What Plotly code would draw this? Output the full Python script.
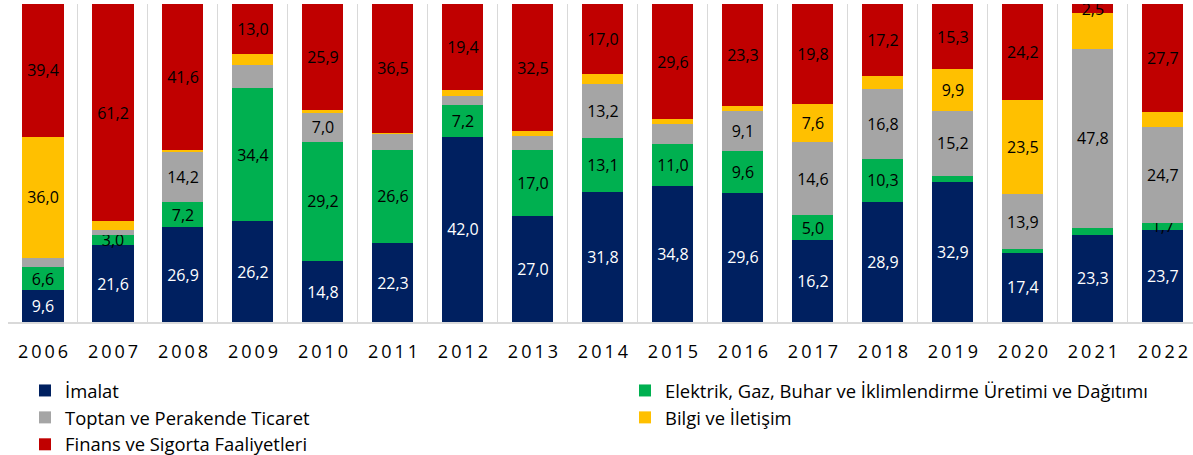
import plotly.graph_objects as go

years = ["2006", "2007", "2008", "2009", "2010", "2011", "2012", "2013", "2014",
         "2015", "2016", "2017", "2018", "2019", "2020", "2021", "2022"]

imalat = [9.6, 21.6, 26.9, 26.2, 14.8, 22.3, 42.0, 27.0, 31.8, 34.8, 29.6, 16.2, 28.9, 32.9, 17.4, 23.3, 23.7]
elektrik = [6.6, 3.0, 7.2, 34.4, 29.2, 26.6, 7.2, 17.0, 13.1, 11.0, 9.6, 5.0, 10.3, 1.5, 0.85, 1.8, 1.7]
toptan = [2.8, 1.4, 14.2, 6.0, 7.0, 4.5, 2.0, 3.6, 13.2, 5.0, 9.1, 14.6, 16.8, 15.2, 13.9, 47.8, 24.7]
bilgi = [36.0, 2.3, 0.6, 2.9, 0.66, 0.3, 1.4, 1.1, 2.45, 1.2, 1.2, 7.6, 3.2, 9.9, 23.5, 9.5, 3.8]
finans = [39.4, 61.2, 41.6, 13.0, 25.9, 36.5, 19.4, 32.5, 17.0, 29.6, 23.3, 19.8, 17.2, 15.3, 24.2, 2.5, 27.7]

# which segments carry a data label in the original (1 = labelled)
imalat_lab = [1] * 17
elektrik_lab = [1, 1, 1, 1, 1, 1, 1, 1, 1, 1, 1, 1, 1, 0, 0, 0, 1]
toptan_lab = [0, 0, 1, 0, 1, 0, 0, 0, 1, 0, 1, 1, 1, 1, 1, 1, 1]
bilgi_lab = [1, 0, 0, 0, 0, 0, 0, 0, 0, 0, 0, 1, 0, 1, 1, 0, 0]
finans_lab = [1] * 17

names = ["İmalat", "Elektrik, Gaz, Buhar ve İklimlendirme Üretimi ve Dağıtımı",
         "Toptan ve Perakende Ticaret", "Bilgi ve İletişim", "Finans ve Sigorta Faaliyetleri"]
colors = ["#002060", "#00B050", "#A5A5A5", "#FFC000", "#C00000"]
text_colors = ["#FFFFFF", "#000000", "#000000", "#000000", "#000000"]
legends = ["legend", "legend2", "legend", "legend2", "legend"]

FONT = "Open Sans"


def fmt(v, show):
    return (f"{v:.1f}".replace(".", ",")) if show else ""


series = [(imalat, imalat_lab), (elektrik, elektrik_lab), (toptan, toptan_lab),
          (bilgi, bilgi_lab), (finans, finans_lab)]

fig = go.Figure()
for i, (vals, labs) in enumerate(series):
    fig.add_trace(go.Bar(
        x=years, y=vals, name=names[i],
        marker=dict(color=colors[i], line=dict(width=0)),
        text=[fmt(v, s) for v, s in zip(vals, labs)],
        textposition="inside", insidetextanchor="middle", textangle=0,
        textfont=dict(family=FONT, size=16, color=text_colors[i]),
        legend=legends[i], legendgroup=f"g{i}", cliponaxis=True,
        hoverinfo="skip",
    ))

ticktext = ["\u2006".join(list(y)) for y in years]

fig.update_layout(
    width=1193, height=455,
    margin=dict(l=8, r=0, t=4, b=133, autoexpand=False),
    barmode="stack", barnorm="percent", bargap=0.414,
    plot_bgcolor="white", paper_bgcolor="white",
    font=dict(family=FONT, color="#000000"),
    uniformtext=dict(minsize=16, mode="show"),
    xaxis=dict(
        type="category", range=[-0.5, 16.43],
        tickmode="array", tickvals=years, ticktext=ticktext, tickangle=0,
        tickfont=dict(family=FONT, size=18, color="#000000"),
        tickson="boundaries", ticks="", showgrid=True, gridcolor="#D9D9D9", gridwidth=1,
        showline=True, linecolor="#D9D9D9", linewidth=1.5,
        ticklabelstandoff=13, automargin=False,
    ),
    yaxis=dict(range=[0, 100], visible=False, showgrid=False, automargin=False),
    legend=dict(
        xref="container", yref="container", x=25 / 1193, y=1 - 372 / 455,
        xanchor="left", yanchor="top", orientation="v",
        font=dict(family=FONT, size=18.4, color="#000000"),
        tracegroupgap=0, bgcolor="rgba(0,0,0,0)",
    ),
    legend2=dict(
        xref="container", yref="container", x=625 / 1193, y=1 - 372 / 455,
        xanchor="left", yanchor="top", orientation="v",
        font=dict(family=FONT, size=18.4, color="#000000"),
        tracegroupgap=0, bgcolor="rgba(0,0,0,0)",
    ),
    showlegend=True,
)

fig.write_html("out.html", config={"displayModeBar": False},
               post_script="document.body.style.margin='0px';")
